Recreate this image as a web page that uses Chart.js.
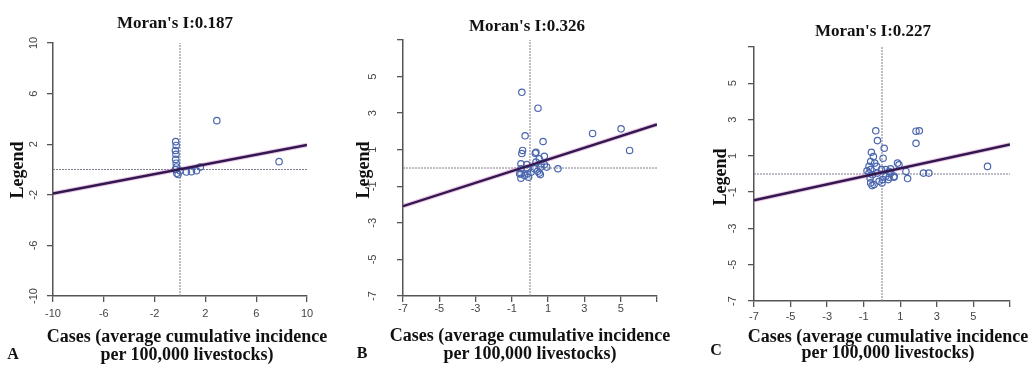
<!DOCTYPE html>
<html>
<head>
<meta charset="utf-8">
<script src="https://cdn.jsdelivr.net/npm/chart.js@4/dist/chart.umd.min.js"></script>
<style>
  body { margin: 0; background: #fff; }
  #wrap { position: relative; width: 1033px; height: 369px; overflow: hidden; }
  .panel { position: absolute; top: 0; width: 345px; height: 369px; }
  .txt { position: absolute; font-family: "Liberation Serif", "Times New Roman", serif; font-weight: bold;
         color: #111; white-space: nowrap; line-height: 1; transform: translate(-50%, -50%); }
  .rot { transform: translate(-50%, -50%) rotate(-90deg); }
</style>
</head>
<body>
<div id="wrap"></div>
<script>
// panel texts
const panelLetters = ['A', 'B', 'C'];
const moranTitles = ["Moran's I:0.187", "Moran's I:0.326", "Moran's I:0.227"];
const xLabelLines = ['Cases (average cumulative incidence', 'per 100,000 livestocks)'];
const yLabel = 'Legend';

// axis ranges and tick steps
const axisMin = [-10, -7, -7];
const axisMax = [10, 7, 7];
const tickStep = [4, 2, 2];

// panel A: standardized cases vs spatial lag
const casesA = [-0.34, -0.3, -0.36, -0.32, -0.34, -0.3, -0.28, -0.36, -0.25, -0.15, 0.0, 0.5, 0.9, 1.3, 1.6, 2.9, 7.8];
const lagA   = [2.2, 1.9, 1.5, 1.2, 0.8, 0.5, 0.2, 0.0, -0.3, -0.4, -0.1, -0.2, -0.17, -0.1, 0.2, 3.86, 0.62];

// panel B
const casesB = [-0.45, 0.44, -0.27, 0.72, 3.45, 5.02, 5.49, 1.54, -0.41, -0.45, 0.33, 0.79, 0.51, 0.33, 0.79, -0.5, -0.17,
                -0.5, -0.13, 0.24, 0.6, 0.92, -0.5, -0.13, 0.05, 0.42, 0.57, -0.5, -0.08, -0.57, -0.3, 0.51, 0.6, 0.29];
const lagB   = [4.14, 3.27, 1.76, 1.45, 1.89, 2.14, 0.96, -0.04, 0.96, 0.79, 0.86, 0.64, 0.5, 0.32, 0.19, 0.23, 0.19,
                -0.04, -0.04, -0.04, 0.05, 0.05, -0.32, -0.32, -0.23, -0.18, -0.36, -0.56, -0.5, -0.32, -0.41, -0.28, 0.23, 0.81];

// panel C
const casesC = [-0.34, -0.25, 0.12, 0.06, 1.86, 2.04, 1.86, 5.77, 2.27, 2.56, 0.85, 1.31, 1.4, 0.67, 0.39,
                -0.58, -0.47, -0.62, -0.71, -0.62, -0.71, -0.52, -0.65, -0.62, -0.43, -0.16, 0.03, 0.21, -0.25, -0.03,
                0.21, 0.48, 0.39, -0.29, -0.4, -0.82, -0.54, 0.0, 0.34, 0.65, 0.93, 0.47];
const lagC   = [2.38, 1.84, 1.42, 0.87, 2.36, 2.38, 1.69, 0.42, 0.05, 0.05, 0.6, 0.14, -0.25, -0.13, 0.14,
                1.2, 0.96, 0.69, 0.42, 0.24, 0.05, -0.04, -0.22, -0.49, -0.58, -0.4, -0.31, -0.13, 0.05, 0.24,
                0.24, 0.05, -0.18, 0.42, 0.6, 0.18, -0.64, -0.49, -0.31, -0.18, 0.51, 0.29];

// regression line end values read at the axis ends
const fitStart = [-1.9, -2.09, -1.45];
const fitEnd   = [1.94, 2.38, 1.63];

const casesAll = [casesA, casesB, casesC];
const lagAll = [lagA, lagB, lagC];

// layout of each panel (pixels)
const panelLeft = [0, 345, 688];
const areaLeft = [53, 58, 66];
const areaRight = [307, 312, 322];
const areaTop = [43, 40, 47];
const areaBottom = [296, 296, 301];
const yTickPad = [5, 19, 10];
const xTickPad = [5, 0, 3];
const titlePos = [[175, 22], [527, 25], [873, 30]];
const xLabPos = [[187, 336, 354], [530, 335, 353], [888, 336, 352]];
const yLabPos = [[17, 170], [363, 170], [720, 177]];
const letterPos = [[13, 354], [362, 353], [716, 350]];

const wrap = document.getElementById('wrap');

function addText(str, x, y, size, rotate) {
    const d = document.createElement('div');
    d.className = rotate ? 'txt rot' : 'txt';
    d.style.left = x + 'px';
    d.style.top = y + 'px';
    d.style.fontSize = size + 'px';
    d.textContent = str;
    wrap.appendChild(d);
}

for (let i = 0; i < 3; i++) {
    const div = document.createElement('div');
    div.className = 'panel';
    div.style.left = panelLeft[i] + 'px';
    const cv = document.createElement('canvas');
    cv.width = 345; cv.height = 369;
    div.appendChild(cv);
    wrap.appendChild(div);

    const pts = casesAll[i].map((x, k) => ({x: x, y: lagAll[i][k]}));
    const lo = axisMin[i], hi = axisMax[i];
    const hideEnd = i > 0;
    const tickCb = (v) => (hideEnd && v === hi) ? '' : v;

    new Chart(cv.getContext('2d'), {
        type: 'scatter',
        data: {
            datasets: [
                {
                    data: pts, order: 1,
                    pointRadius: 3.2, pointHoverRadius: 3.2,
                    pointBorderColor: '#4a66ae', pointBackgroundColor: 'rgba(0,0,0,0)',
                    pointBorderWidth: 1.2
                },
                {
                    data: [{x: lo, y: fitStart[i]}, {x: hi, y: fitEnd[i]}], order: 0,
                    showLine: true, borderColor: '#2e1a4e', borderWidth: 2.4, pointRadius: 0
                },
                {
                    data: [{x: lo, y: fitStart[i]}, {x: hi, y: fitEnd[i]}], order: 2,
                    showLine: true, borderColor: 'rgba(225,120,200,0.45)', borderWidth: 4.5, pointRadius: 0
                },
                {
                    data: [{x: 0, y: lo}, {x: 0, y: hi}], order: 3,
                    showLine: true, borderColor: '#7d7d8c', borderWidth: 1, borderDash: [2, 1], pointRadius: 0
                },
                {
                    data: [{x: lo, y: 0}, {x: hi, y: 0}], order: 3,
                    showLine: true, borderColor: '#7d7d8c', borderWidth: 1, borderDash: [2, 1], pointRadius: 0
                }
            ]
        },
        options: {
            responsive: false,
            devicePixelRatio: 1,
            animation: false,
            layout: {
                padding: {left: 0, top: areaTop[i], right: 345 - areaRight[i], bottom: 0}
            },
            plugins: { legend: {display: false}, tooltip: {enabled: false} },
            scales: {
                x: {
                    type: 'linear', min: lo, max: hi,
                    ticks: {stepSize: tickStep[i], padding: xTickPad[i], color: '#444', maxRotation: 0,
                            font: {family: '"Liberation Sans", Arial, sans-serif', size: 11}, callback: tickCb},
                    grid: {drawOnChartArea: false, drawTicks: true, tickLength: 6, color: '#555', lineWidth: 1.3},
                    border: {display: true, color: '#555', width: 1.5},
                    afterFit: (s) => { s.height = 369 - areaBottom[i]; }
                },
                y: {
                    type: 'linear', min: lo, max: hi,
                    ticks: {stepSize: tickStep[i], padding: yTickPad[i], color: '#444',
                            minRotation: 90, maxRotation: 90, crossAlign: 'center',
                            font: {family: '"Liberation Sans", Arial, sans-serif', size: 11}, callback: tickCb},
                    grid: {drawOnChartArea: false, drawTicks: true, tickLength: 6, color: '#555', lineWidth: 1.3},
                    border: {display: true, color: '#555', width: 1.5},
                    afterFit: (s) => { s.width = areaLeft[i]; }
                }
            }
        }
    });

    addText(moranTitles[i], titlePos[i][0], titlePos[i][1], 17, false);
    addText(xLabelLines[0], xLabPos[i][0], xLabPos[i][1], 18, false);
    addText(xLabelLines[1], xLabPos[i][0], xLabPos[i][2], 18, false);
    addText(yLabel, yLabPos[i][0], yLabPos[i][1], 18, true);
    addText(panelLetters[i], letterPos[i][0], letterPos[i][1], 16, false);
}
</script>
</body>
</html>
